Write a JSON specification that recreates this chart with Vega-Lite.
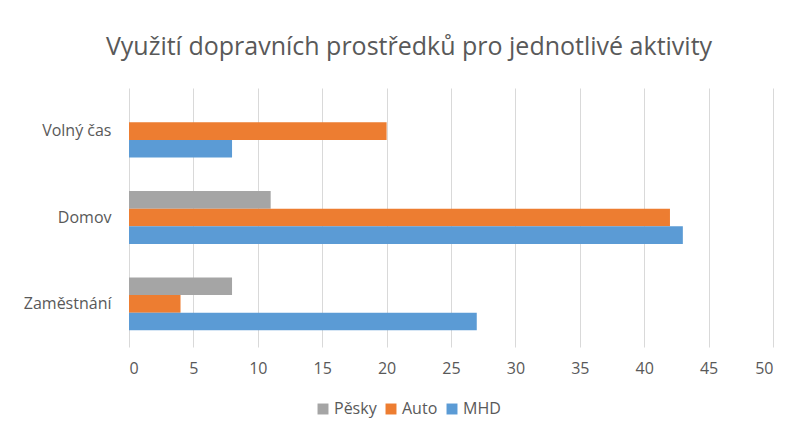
{
  "$schema": "https://vega.github.io/schema/vega-lite/v6.json",
  "width": 644,
  "height": 259,
  "autosize": {"type": "none"},
  "padding": {"left": 129, "top": 88, "right": 24, "bottom": 90},
  "background": "white",
  "title": {
    "text": "Využití dopravních prostředků pro jednotlivé aktivity",
    "font": "Open Sans",
    "fontSize": 25,
    "fontWeight": "normal",
    "color": "#595959",
    "anchor": "middle",
    "dx": -42,
    "offset": 28
  },
  "data": {
    "values": [
      {"aktivita": "Volný čas", "prostredek": "Pěsky", "hodnota": 0},
      {"aktivita": "Volný čas", "prostredek": "Auto", "hodnota": 20},
      {"aktivita": "Volný čas", "prostredek": "MHD", "hodnota": 8},
      {"aktivita": "Domov", "prostredek": "Pěsky", "hodnota": 11},
      {"aktivita": "Domov", "prostredek": "Auto", "hodnota": 42},
      {"aktivita": "Domov", "prostredek": "MHD", "hodnota": 43},
      {"aktivita": "Zaměstnání", "prostredek": "Pěsky", "hodnota": 8},
      {"aktivita": "Zaměstnání", "prostredek": "Auto", "hodnota": 4},
      {"aktivita": "Zaměstnání", "prostredek": "MHD", "hodnota": 27}
    ]
  },
  "mark": {"type": "bar"},
  "encoding": {
    "y": {
      "field": "aktivita",
      "type": "nominal",
      "sort": ["Volný čas", "Domov", "Zaměstnání"],
      "scale": {"paddingInner": 0.388, "paddingOuter": 0.194},
      "axis": {
        "title": null,
        "domain": false,
        "ticks": false,
        "labelPadding": 18,
        "labelFont": "Open Sans",
        "labelFontSize": 16,
        "labelColor": "#595959"
      }
    },
    "yOffset": {
      "field": "prostredek",
      "type": "nominal",
      "sort": ["Pěsky", "Auto", "MHD"],
      "scale": {"paddingInner": 0, "paddingOuter": 0}
    },
    "x": {
      "field": "hodnota",
      "type": "quantitative",
      "scale": {"domain": [0, 50], "nice": false},
      "axis": {
        "title": null,
        "values": [0, 5, 10, 15, 20, 25, 30, 35, 40, 45, 50],
        "domain": false,
        "ticks": false,
        "grid": true,
        "gridColor": "#d9d9d9",
        "gridWidth": 1,
        "labelPadding": 13,
        "labelFont": "Open Sans",
        "labelFontSize": 16,
        "labelColor": "#595959"
      }
    },
    "color": {
      "field": "prostredek",
      "type": "nominal",
      "sort": ["Pěsky", "Auto", "MHD"],
      "scale": {"domain": ["Pěsky", "Auto", "MHD"], "range": ["#a5a5a5", "#ed7d31", "#5b9bd5"]},
      "legend": {
        "title": null,
        "orient": "none",
        "direction": "horizontal",
        "legendX": 186,
        "legendY": 313,
        "symbolType": "square",
        "symbolSize": 120,
        "symbolStrokeWidth": 0,
        "symbolOpacity": 1,
        "columnPadding": 6,
        "labelOffset": 3,
        "labelFont": "Open Sans",
        "labelFontSize": 16,
        "labelColor": "#595959"
      }
    }
  },
  "config": {
    "view": {"stroke": null}
  }
}
